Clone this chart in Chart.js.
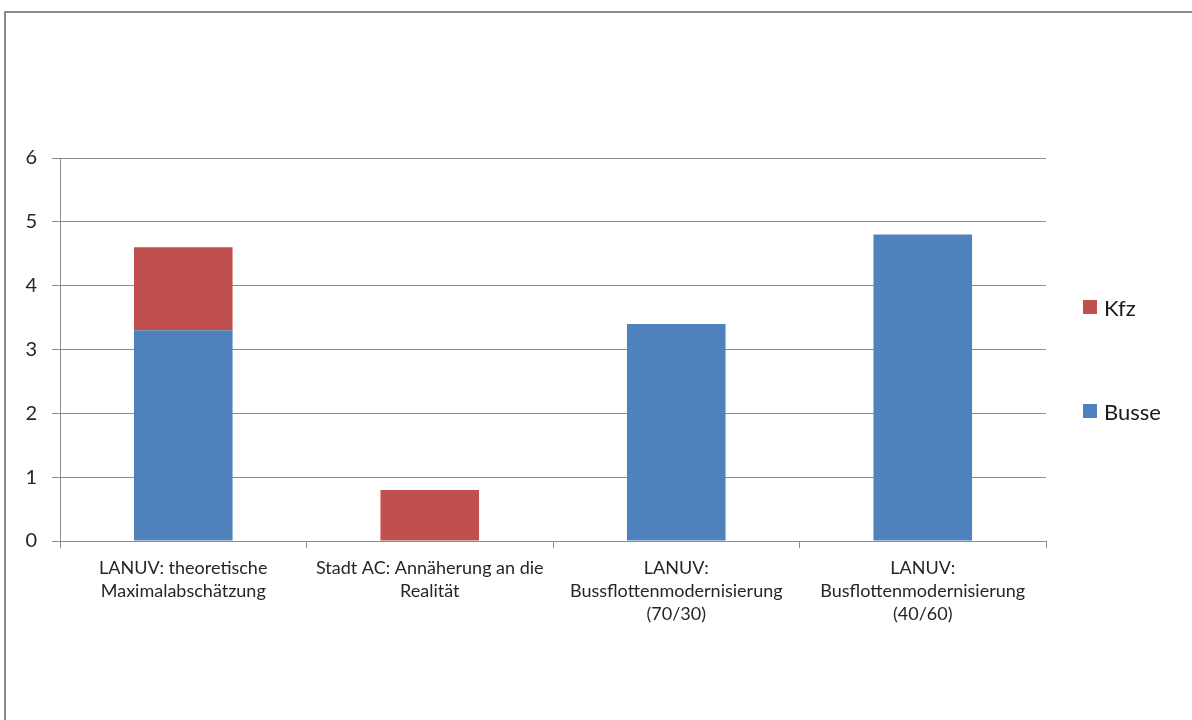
<!DOCTYPE html>
<html>
<head>
<meta charset="utf-8">
<script src="https://cdn.jsdelivr.net/npm/chart.js@4"></script>
<style>
    html, body { margin: 0; padding: 0; background: #fff; overflow: hidden; }
    #wrap { position: relative; width: 1192px; height: 720px; }
    #frame {
        position: absolute; left: 4px; top: 11px; width: 1300px; height: 800px;
        border-left: 2px solid #8a8a8a; border-top: 2px solid #8a8a8a;
    }
    #chartBox { position: absolute; left: 0; top: 0; width: 1192px; height: 720px; }
    #legend {
        position: absolute; left: 1083px; top: 295px;
        display: flex; flex-direction: column; gap: 80px;
        font-family: Lato, "Open Sans", sans-serif; font-size: 22px; color: #1a1a1a;
    }
    .legend-item { display: flex; align-items: center; height: 24px; }
    .legend-box { width: 14px; height: 14px; margin-right: 7px; }
</style>
</head>
<body>
<div id="wrap">
    <div id="frame"></div>
    <div id="chartBox"><canvas id="chart"></canvas></div>
    <div id="legend"></div>
</div>
<script>
// Categories (x axis labels, already wrapped as in the original)
const categories = [
    ['LANUV: theoretische', 'Maximalabschätzung'],
    ['Stadt AC: Annäherung an die', 'Realität'],
    ['LANUV:', 'Bussflottenmodernisierung', '(70/30)'],
    ['LANUV:', 'Busflottenmodernisierung', '(40/60)']
];

// Series values
const busse = [3.3, null, 3.4, 4.8];
const kfz = [1.3, 0.8, null, null];

// Y axis ticks
const yTicks = [0, 1, 2, 3, 4, 5, 6];

const BLUE = '#4f81bd';
const RED = '#c0504d';
const GRID = '#8c8c8c';
const FONT = 'Lato, "Open Sans", sans-serif';

const chart = new Chart(document.getElementById('chart'), {
    type: 'bar',
    data: {
        labels: categories,
        datasets: [
            { label: 'Busse', data: busse, backgroundColor: BLUE },
            { label: 'Kfz', data: kfz, backgroundColor: RED }
        ]
    },
    options: {
        responsive: true,
        maintainAspectRatio: false,
        animation: false,
        layout: {
            padding: { left: 0, top: 158, right: 146, bottom: 0 }
        },
        datasets: {
            bar: { categoryPercentage: 1, barPercentage: 0.4, borderWidth: 0 }
        },
        plugins: {
            legend: { display: false },
            tooltip: { enabled: false }
        },
        scales: {
            x: {
                stacked: true,
                grid: {
                    offset: true,
                    drawOnChartArea: false,
                    drawTicks: true,
                    tickLength: 7,
                    color: GRID
                },
                border: { display: true, color: GRID },
                ticks: {
                    color: '#262626',
                    padding: 8,
                    maxRotation: 0,
                    autoSkip: false,
                    font: { family: FONT, size: 18, lineHeight: 1.3 }
                },
                afterFit: scale => { scale.height = 179; }
            },
            y: {
                stacked: true,
                min: yTicks[0],
                max: yTicks[yTicks.length - 1],
                afterBuildTicks: scale => {
                    scale.ticks = yTicks.map(v => ({ value: v }));
                },
                grid: {
                    color: GRID,
                    tickLength: 8
                },
                border: { display: true, color: GRID },
                ticks: {
                    color: '#262626',
                    padding: 15,
                    font: { family: FONT, size: 20 }
                },
                afterFit: scale => { scale.width = 60; }
            }
        }
    }
});

// HTML legend built from the datasets (top item = last dataset)
const legendEl = document.getElementById('legend');
chart.data.datasets.slice().reverse().forEach(ds => {
    const item = document.createElement('div');
    item.className = 'legend-item';
    const box = document.createElement('span');
    box.className = 'legend-box';
    box.style.background = ds.backgroundColor;
    const text = document.createElement('span');
    text.textContent = ds.label;
    item.appendChild(box);
    item.appendChild(text);
    legendEl.appendChild(item);
});
</script>
</body>
</html>
